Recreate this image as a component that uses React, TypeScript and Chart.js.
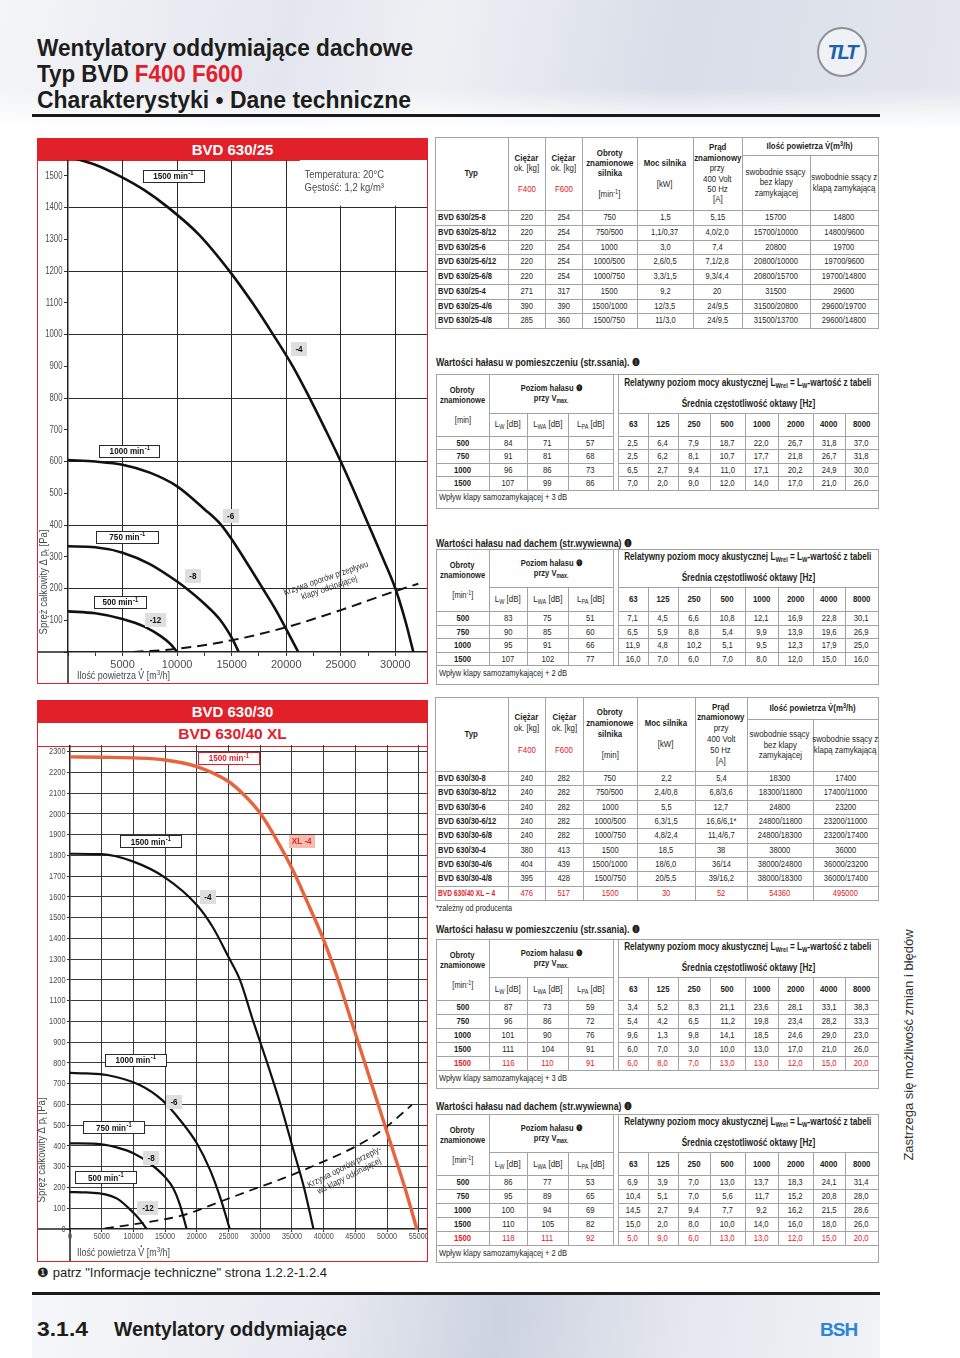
import React, { useEffect, useRef } from "react";
import { Chart, registerables } from "chart.js";
Chart.register(...registerables);

const SANS = '"Liberation Sans",Arial,sans-serif';
const RED = "#e2202a";
const INK = "#231f20";
const LINE = "#a3a3a3";
const NX = 0.82; // horizontal compression that imitates a condensed face

// ---------------- Chart 1 : BVD 630/25 ----------------
const c1Flow1500 = [0, 2500, 4700, 7000, 9200, 12000, 14800, 16900, 18800, 20600, 22150, 23600, 25000, 26300, 27550, 28800, 30000, 30900, 31650];
const c1Pa1500 = [1560, 1535, 1500, 1455, 1400, 1315, 1200, 1100, 1000, 900, 800, 700, 600, 500, 400, 300, 200, 100, 0];
const c1Flow1000 = [0, 2500, 5000, 7500, 10000, 12500, 14050, 15000, 16500, 17850, 19000, 20000, 21100];
const c1Pa1000 = [605, 600, 590, 565, 522, 450, 400, 355, 275, 200, 135, 72, 0];
const c1Flow750 = [0, 2500, 5000, 7500, 10000, 11000, 12500, 13900, 15000, 15650];
const c1Pa750 = [333, 330, 313, 277, 222, 196, 152, 103, 45, 0];
const c1Flow500 = [0, 2500, 5000, 7000, 8500, 9400, 10000];
const c1Pa500 = [128, 122, 104, 80, 50, 25, 0];
const c1FlowDamper = [6000, 10000, 15000, 20000, 25000, 30000, 32100];
const c1PaDamper = [0, 10, 37, 78, 132, 192, 215];
const c1XTicks = [0, 2500, 5000, 7500, 10000, 12500, 15000, 17500, 20000, 22500, 25000, 27500, 30000];
const c1YTicks = [0, 100, 200, 300, 400, 500, 600, 700, 800, 900, 1000, 1100, 1200, 1300, 1400, 1500];

// ---------------- Chart 2 : BVD 630/30 + 630/40 XL ----------------
const c2FlowXL = [0, 5000, 10000, 15000, 20000, 25000, 27500, 30000, 32500, 35000, 37500, 40000, 42300, 44400, 46500, 48600, 50700, 52800, 54700];
const c2PaXL = [2275, 2273, 2270, 2260, 2228, 2156, 2090, 2003, 1880, 1738, 1570, 1393, 1200, 1000, 800, 600, 400, 200, 0];
const c2Flow1500 = [0, 5000, 10000, 15000, 20000, 22500, 25000, 26800, 28900, 31100, 33200, 35050, 36900, 38400];
const c2Pa1500 = [1808, 1806, 1770, 1693, 1561, 1455, 1310, 1200, 1000, 800, 600, 400, 200, 0];
const c2Flow1000 = [0, 2500, 5800, 11000, 14500, 17350, 20000, 22100, 23650, 25200];
const c2Pa1000 = [752, 750, 742, 694, 622, 525, 413, 284, 156, 0];
const c2Flow750 = [0, 5000, 7500, 10000, 12500, 15000, 16300, 17300, 18400];
const c2Pa750 = [413, 408, 392, 365, 318, 250, 195, 120, 0];
const c2Flow500 = [0, 2500, 5000, 7500, 10000, 11000, 12100];
const c2Pa500 = [178, 176, 170, 145, 78, 45, 0];
const c2FlowDamper = [5500, 11000, 17900, 23100, 27900, 33700, 37300, 45500, 49400, 53900];
const c2PaDamper = [3, 27, 67, 125, 180, 245, 290, 405, 480, 598];
const c2XTicks = [0, 5000, 10000, 15000, 20000, 25000, 30000, 35000, 40000, 45000, 50000, 55000];
const c2YTicks = [0, 100, 200, 300, 400, 500, 600, 700, 800, 900, 1000, 1100, 1200, 1300, 1400, 1500, 1600, 1700, 1800, 1900, 2000, 2100, 2200, 2300];

// ---------------- Tables ----------------
const spec25Rows = [
  ["BVD 630/25-8", "220", "254", "750", "1,5", "5,15", "15700", "14800"],
  ["BVD 630/25-8/12", "220", "254", "750/500", "1,1/0,37", "4,0/2,0", "15700/10000", "14800/9600"],
  ["BVD 630/25-6", "220", "254", "1000", "3,0", "7,4", "20800", "19700"],
  ["BVD 630/25-6/12", "220", "254", "1000/500", "2,6/0,5", "7,1/2,8", "20800/10000", "19700/9600"],
  ["BVD 630/25-6/8", "220", "254", "1000/750", "3,3/1,5", "9,3/4,4", "20800/15700", "19700/14800"],
  ["BVD 630/25-4", "271", "317", "1500", "9,2", "20", "31500", "29600"],
  ["BVD 630/25-4/6", "390", "390", "1500/1000", "12/3,5", "24/9,5", "31500/20800", "29600/19700"],
  ["BVD 630/25-4/8", "285", "360", "1500/750", "11/3,0", "24/9,5", "31500/13700", "29600/14800"],
];
const spec30Rows = [
  ["BVD 630/30-8", "240", "282", "750", "2,2", "5,4", "18300", "17400"],
  ["BVD 630/30-8/12", "240", "282", "750/500", "2,4/0,8", "6,8/3,6", "18300/11800", "17400/11000"],
  ["BVD 630/30-6", "240", "282", "1000", "5,5", "12,7", "24800", "23200"],
  ["BVD 630/30-6/12", "240", "282", "1000/500", "6,3/1,5", "16,6/6,1*", "24800/11800", "23200/11000"],
  ["BVD 630/30-6/8", "240", "282", "1000/750", "4,8/2,4", "11,4/6,7", "24800/18300", "23200/17400"],
  ["BVD 630/30-4", "380", "413", "1500", "18,5", "38", "38000", "36000"],
  ["BVD 630/30-4/6", "404", "439", "1500/1000", "18/6,0", "36/14", "38000/24800", "36000/23200"],
  ["BVD 630/30-4/8", "395", "428", "1500/750", "20/5,5", "39/16,2", "38000/18300", "36000/17400"],
  ["BVD 630/40 XL – 4", "476", "517", "1500", "30", "52", "54360", "495000"],
];
const noise25In = [
  ["500", "84", "71", "57", "2,5", "6,4", "7,9", "18,7", "22,0", "26,7", "31,8", "37,0"],
  ["750", "91", "81", "68", "2,5", "6,2", "8,1", "10,7", "17,7", "21,8", "26,7", "31,8"],
  ["1000", "96", "86", "73", "6,5", "2,7", "9,4", "11,0", "17,1", "20,2", "24,9", "30,0"],
  ["1500", "107", "99", "86", "7,0", "2,0", "9,0", "12,0", "14,0", "17,0", "21,0", "26,0"],
];
const noise25Out = [
  ["500", "83", "75", "51", "7,1", "4,5", "6,6", "10,8", "12,1", "16,9", "22,8", "30,1"],
  ["750", "90", "85", "60", "6,5", "5,9", "8,8", "5,4", "9,9", "13,9", "19,6", "26,9"],
  ["1000", "95", "91", "66", "11,9", "4,8", "10,2", "5,1", "9,5", "12,3", "17,9", "25,0"],
  ["1500", "107", "102", "77", "16,0", "7,0", "6,0", "7,0", "8,0", "12,0", "15,0", "16,0"],
];
const noise30In = [
  ["500", "87", "73", "59", "3,4", "5,2", "8,3", "21,1", "23,6", "28,1", "33,1", "38,3"],
  ["750", "96", "86", "72", "5,4", "4,2", "6,5", "11,2", "19,8", "23,4", "28,2", "33,3"],
  ["1000", "101", "90", "76", "9,6", "1,3", "9,8", "14,1", "18,5", "24,6", "29,0", "23,0"],
  ["1500", "111", "104", "91", "6,0", "7,0", "3,0", "10,0", "13,0", "17,0", "21,0", "26,0"],
  ["1500", "116", "110", "91", "6,0", "8,0", "7,0", "13,0", "13,0", "12,0", "15,0", "20,0"],
];
const noise30Out = [
  ["500", "86", "77", "53", "6,9", "3,9", "7,0", "13,0", "13,7", "18,3", "24,1", "31,4"],
  ["750", "95", "89", "65", "10,4", "5,1", "7,0", "5,6", "11,7", "15,2", "20,8", "28,0"],
  ["1000", "100", "94", "69", "14,5", "2,7", "9,4", "7,7", "9,2", "16,2", "21,5", "28,6"],
  ["1500", "110", "105", "82", "15,0", "2,0", "8,0", "10,0", "14,0", "16,0", "18,0", "26,0"],
  ["1500", "118", "111", "92", "5,0", "9,0", "6,0", "13,0", "13,0", "12,0", "15,0", "20,0"],
];
const freqHeads = ["63", "125", "250", "500", "1000", "2000", "4000", "8000"];

// ---------------- canvas text helpers ----------------
function fontStr(size: number, bold = false) {
  return `${bold ? "bold " : ""}${size}px ${SANS}`;
}
function fillScaled(ctx: CanvasRenderingContext2D, text: string, x: number, y: number, size: number, bold: boolean, sx: number, align: "left" | "center" | "right") {
  ctx.save();
  ctx.font = fontStr(size, bold);
  const w = ctx.measureText(text).width * sx;
  const x0 = align === "left" ? x : align === "center" ? x - w / 2 : x - w;
  ctx.translate(x0, y);
  ctx.scale(sx, 1);
  ctx.textAlign = "left";
  ctx.textBaseline = "middle";
  ctx.fillText(text, 0, 0);
  ctx.restore();
  return w;
}
type Part = { t: string; dy: number; k: number };
function partsWidth(ctx: CanvasRenderingContext2D, parts: Part[], size: number) {
  let w = 0;
  parts.forEach((p) => { ctx.font = fontStr(size * p.k); w += ctx.measureText(p.t).width; });
  return w;
}
function drawParts(ctx: CanvasRenderingContext2D, parts: Part[], size: number) {
  let x = 0;
  ctx.textAlign = "left";
  ctx.textBaseline = "middle";
  for (const p of parts) {
    ctx.font = fontStr(size * p.k);
    ctx.fillText(p.t, x, p.dy);
    x += ctx.measureText(p.t).width;
  }
}

// ---------------- chart machinery ----------------
type Curve = { flow: number[]; pa: number[]; color: string; width: number; dash?: number[] };
type LabelBox = { x: number; y: number; text: string; sup?: string; kind: "rpm" | "rpmRed" | "gray" | "pink"; w?: number };
type Note = { x: number; y: number; lines: string[]; angle: number; size: number; sx: number; color: string; align: "left" | "center"; lh: number };
type Mask = { x0: number; x1: number; y0: number; y1: number };
type Spec = {
  xMax: number; yMax: number; xTicks: number[]; yTicks: number[];
  xGridEvery: number; yGridEvery: number; xLabelEvery: number; yLabelZero: boolean; xLabelZero: boolean;
  axisW: number; axisH: number; tickLen: number;
  xTick: { size: number; sx: number; dy: number }; yTick: { size: number; sx: number };
  curves: Curve[]; boxes: LabelBox[]; notes: Note[]; masks: Mask[];
  yTitle: { cx: number; cy: number; size: number; len: number }; xTitle: { x: number; cy: number; size: number; len: number };
  gridColor: string;
};

const BOX_STYLES: any = {
  rpm: { fill: "#fff", stroke: "#2a2a2a", color: "#111", size: 9, padX: 6, h: 13 },
  rpmRed: { fill: "#fff", stroke: RED, color: RED, size: 9, padX: 6, h: 13 },
  gray: { fill: "#dedede", stroke: null, color: "#111", size: 9, padX: 4.5, h: 14 },
  pink: { fill: "#f6bcae", stroke: null, color: "#d8262b", size: 9, padX: 3, h: 13 },
};

function drawLabelBox(ctx: CanvasRenderingContext2D, px: number, py: number, b: LabelBox) {
  const st = BOX_STYLES[b.kind];
  const sx = 0.9;
  ctx.save();
  ctx.font = fontStr(st.size, true);
  const w1 = ctx.measureText(b.text).width * sx;
  let w2 = 0;
  if (b.sup) { ctx.font = fontStr(st.size * 0.7, true); w2 = ctx.measureText(b.sup).width * sx + 1; }
  const w = b.w ?? Math.round(w1 + w2 + st.padX * 2);
  const h = st.h;
  const x0 = Math.round(px - w / 2), y0 = Math.round(py - h / 2);
  ctx.fillStyle = st.fill;
  ctx.fillRect(x0, y0, w, h);
  if (st.stroke) { ctx.strokeStyle = st.stroke; ctx.lineWidth = 1; ctx.strokeRect(x0 + 0.5, y0 + 0.5, w - 1, h - 1); }
  const tx = px - (w1 + w2) / 2;
  ctx.fillStyle = st.color;
  fillScaled(ctx, b.text, tx, py + 0.5, st.size, true, sx, "left");
  if (b.sup) fillScaled(ctx, b.sup, tx + w1 + 0.5, py - 2.5, st.size * 0.7, true, sx, "left");
  ctx.restore();
}

function drawNote(ctx: CanvasRenderingContext2D, px: number, py: number, n: Note) {
  ctx.save();
  ctx.translate(px, py);
  ctx.rotate((n.angle * Math.PI) / 180);
  ctx.fillStyle = n.color;
  const off = n.align === "center" ? -((n.lines.length - 1) * n.lh) / 2 : 0;
  n.lines.forEach((l, i) => fillScaled(ctx, l, 0, off + i * n.lh, n.size, false, n.sx, n.align));
  ctx.restore();
}

function makePlugin(spec: Spec) {
  return {
    id: "fanExtras",
    afterDraw(chart: any) {
      const ctx: CanvasRenderingContext2D = chart.ctx;
      const a = chart.chartArea;
      const xs = chart.scales.x, ys = chart.scales.y;
      ctx.save();
      // white panel behind the conditions note
      ctx.fillStyle = "#fff";
      spec.masks.forEach((m) => {
        const x0 = xs.getPixelForValue(m.x0), x1 = Math.min(xs.getPixelForValue(m.x1), a.right);
        const y0 = ys.getPixelForValue(m.y1), y1 = ys.getPixelForValue(m.y0);
        ctx.fillRect(x0, Math.max(y0, a.top), x1 - x0, y1 - Math.max(y0, a.top));
      });
      // axis lines continued into the label strips
      ctx.strokeStyle = "#222";
      ctx.lineWidth = 1.5;
      ctx.beginPath();
      ctx.moveTo(0, a.bottom);
      ctx.lineTo(a.left, a.bottom);
      ctx.moveTo(a.left, a.bottom);
      ctx.lineTo(a.left, chart.height);
      ctx.stroke();

      // tick labels (condensed look)
      ctx.fillStyle = "#4d4d4d";
      spec.xTicks.forEach((v) => {
        if (v % spec.xLabelEvery !== 0 || (v === 0 && !spec.xLabelZero)) return;
        fillScaled(ctx, String(v), xs.getPixelForValue(v), a.bottom + spec.xTick.dy, spec.xTick.size, false, spec.xTick.sx, "center");
      });
      spec.yTicks.forEach((v) => {
        if (v === 0 && !spec.yLabelZero) return;
        fillScaled(ctx, String(v), a.left - spec.tickLen - 1.5, ys.getPixelForValue(v), spec.yTick.size, false, spec.yTick.sx, "right");
      });

      spec.notes.forEach((n) => drawNote(ctx, xs.getPixelForValue(n.x), ys.getPixelForValue(n.y), n));
      spec.boxes.forEach((b) => drawLabelBox(ctx, xs.getPixelForValue(b.x), ys.getPixelForValue(b.y), b));

      // y title
      const yt = spec.yTitle;
      const yParts: Part[] = [
        { t: "Spręż całkowity Δ p", dy: 0, k: 1 },
        { t: "t", dy: 3, k: 0.7 },
        { t: " [Pa]", dy: 0, k: 1 },
      ];
      const yw = partsWidth(ctx, yParts, yt.size);
      ctx.save();
      ctx.fillStyle = "#4a4a4a";
      ctx.translate(yt.cx, yt.cy);
      ctx.rotate(-Math.PI / 2);
      ctx.translate(-yt.len / 2, 0);
      ctx.scale(yt.len / yw, 1);
      drawParts(ctx, yParts, yt.size);
      ctx.restore();

      // x title
      const xt = spec.xTitle;
      const xParts: Part[] = [
        { t: "Ilość powietrza V [m", dy: 0, k: 1 },
        { t: "3", dy: -3, k: 0.7 },
        { t: "/h]", dy: 0, k: 1 },
      ];
      const xw = partsWidth(ctx, xParts, xt.size);
      ctx.save();
      ctx.fillStyle = "#4a4a4a";
      ctx.translate(xt.x, xt.cy);
      ctx.scale(xt.len / xw, 1);
      drawParts(ctx, xParts, xt.size);
      ctx.font = fontStr(xt.size);
      const wPre = ctx.measureText("Ilość powietrza ").width;
      const wV = ctx.measureText("V").width;
      ctx.beginPath();
      ctx.arc(wPre + wV / 2, -xt.size * 0.62, 0.9, 0, Math.PI * 2);
      ctx.fill();
      ctx.restore();
      ctx.restore();
    },
  };
}

function FanChart({ left, top, width, height, spec }: { left: number; top: number; width: number; height: number; spec: Spec }) {
  const ref = useRef<HTMLCanvasElement>(null);
  useEffect(() => {
    const cfg: any = {
      type: "line",
      data: {
        datasets: spec.curves.map((c) => ({
          data: c.flow.map((x, i) => ({ x, y: c.pa[i] })),
          borderColor: c.color,
          borderWidth: c.width,
          borderDash: c.dash || [],
          pointRadius: 0,
          fill: false,
          cubicInterpolationMode: "monotone",
          borderCapStyle: "butt",
        })),
      },
      options: {
        responsive: false,
        animation: false,
        devicePixelRatio: 1,
        events: [],
        layout: { padding: 0 },
        plugins: { legend: { display: false }, tooltip: { enabled: false } },
        scales: {
          x: {
            type: "linear",
            min: 0,
            max: spec.xMax,
            afterBuildTicks: (s: any) => { s.ticks = spec.xTicks.map((v) => ({ value: v })); },
            afterFit: (s: any) => { s.height = spec.axisH; },
            ticks: { display: false },
            grid: {
              color: (c: any) => (c.tick && c.tick.value > 0 && c.tick.value % spec.xGridEvery === 0 ? spec.gridColor : "rgba(0,0,0,0)"),
              tickColor: "#333",
              tickLength: spec.tickLen,
              lineWidth: 1,
            },
            border: { display: true, color: "#222", width: 1.5 },
          },
          y: {
            type: "linear",
            min: 0,
            max: spec.yMax,
            afterBuildTicks: (s: any) => { s.ticks = spec.yTicks.map((v) => ({ value: v })); },
            afterFit: (s: any) => { s.width = spec.axisW; },
            ticks: { display: false },
            grid: {
              color: (c: any) => (c.tick && c.tick.value > 0 && c.tick.value % spec.yGridEvery === 0 ? spec.gridColor : "rgba(0,0,0,0)"),
              tickColor: "#333",
              tickLength: spec.tickLen,
              lineWidth: 1,
            },
            border: { display: true, color: "#222", width: 1.5 },
          },
        },
      },
      plugins: [makePlugin(spec)],
    };
    const chart = new Chart(ref.current as HTMLCanvasElement, cfg);
    return () => chart.destroy();
  }, []);
  return <canvas ref={ref} width={width} height={height} style={{ position: "absolute", left, top, width, height }} />;
}

const chart1Spec: Spec = {
  xMax: 32900, yMax: 1550, xTicks: c1XTicks, yTicks: c1YTicks,
  xGridEvery: 5000, yGridEvery: 200, xLabelEvery: 5000, yLabelZero: false, xLabelZero: false,
  axisW: 30, axisH: 31, tickLen: 4,
  xTick: { size: 11, sx: 1, dy: 13 }, yTick: { size: 10, sx: 0.78 },
  gridColor: "#2b2b2b",
  curves: [
    { flow: c1Flow1500, pa: c1Pa1500, color: "#111", width: 2.6 },
    { flow: c1Flow1000, pa: c1Pa1000, color: "#111", width: 2.6 },
    { flow: c1Flow750, pa: c1Pa750, color: "#111", width: 2.6 },
    { flow: c1Flow500, pa: c1Pa500, color: "#111", width: 2.6 },
    { flow: c1FlowDamper, pa: c1PaDamper, color: "#111", width: 2, dash: [10, 6] },
  ],
  boxes: [
    { x: 9670, y: 1499, text: "1500 min", sup: "-1", kind: "rpm", w: 62 },
    { x: 21170, y: 955, text: "-4", kind: "gray" },
    { x: 5680, y: 633, text: "1000 min", sup: "-1", kind: "rpm", w: 61 },
    { x: 14900, y: 428, text: "-6", kind: "gray" },
    { x: 5450, y: 362, text: "750 min", sup: "-1", kind: "rpm", w: 63 },
    { x: 11440, y: 239, text: "-8", kind: "gray" },
    { x: 4810, y: 156, text: "500 min", sup: "-1", kind: "rpm", w: 53 },
    { x: 8020, y: 101, text: "-12", kind: "gray" },
  ],
  notes: [
    { x: 21680, y: 1502, lines: ["Temperatura: 20°C", "Gęstość: 1,2 kg/m³"], angle: 0, size: 11, sx: 0.86, color: "#4a4a4a", align: "left", lh: 12.5 },
    { x: 23790, y: 217, lines: ["Krzywa oporów przepływu", "klapy odcinającej"], angle: -19, size: 9, sx: 0.85, color: "#333", align: "center", lh: 10 },
  ],
  masks: [{ x0: 21250, x1: 32900, y0: 1406, y1: 1560 }],
  yTitle: { cx: 6, cy: 422, size: 11, len: 105 },
  xTitle: { x: 39, cy: 516, size: 11, len: 93 },
};

const chart2Spec: Spec = {
  xMax: 56300, yMax: 2332, xTicks: c2XTicks, yTicks: c2YTicks,
  xGridEvery: 5000, yGridEvery: 100, xLabelEvery: 5000, yLabelZero: true, xLabelZero: true,
  axisW: 32, axisH: 32, tickLen: 3,
  xTick: { size: 9, sx: 0.8, dy: 8 }, yTick: { size: 9.5, sx: 0.78 },
  gridColor: "#3a3a3a",
  curves: [
    { flow: c2FlowXL, pa: c2PaXL, color: "#e8643e", width: 3.4 },
    { flow: c2Flow1500, pa: c2Pa1500, color: "#111", width: 2.2 },
    { flow: c2Flow1000, pa: c2Pa1000, color: "#111", width: 2.2 },
    { flow: c2Flow750, pa: c2Pa750, color: "#111", width: 2.2 },
    { flow: c2Flow500, pa: c2Pa500, color: "#111", width: 2.2 },
    { flow: c2FlowDamper, pa: c2PaDamper, color: "#111", width: 1.8, dash: [9, 6] },
  ],
  boxes: [
    { x: 25080, y: 2268, text: "1500 min", sup: "-1", kind: "rpmRed", w: 62 },
    { x: 36540, y: 1868, text: "XL -4", kind: "pink" },
    { x: 12780, y: 1865, text: "1500 min", sup: "-1", kind: "rpm", w: 62 },
    { x: 21740, y: 1598, text: "-4", kind: "gray" },
    { x: 10400, y: 814, text: "1000 min", sup: "-1", kind: "rpm", w: 62 },
    { x: 16400, y: 610, text: "-6", kind: "gray" },
    { x: 6940, y: 487, text: "750 min", sup: "-1", kind: "rpm", w: 62 },
    { x: 12780, y: 342, text: "-8", kind: "gray" },
    { x: 5680, y: 246, text: "500 min", sup: "-1", kind: "rpm", w: 62 },
    { x: 12300, y: 101, text: "-12", kind: "gray" },
  ],
  notes: [
    { x: 43650, y: 276, lines: ["Krzywa oporów przeply-", "wu klapy odcinającej"], angle: -27, size: 9, sx: 0.85, color: "#333", align: "center", lh: 10 },
  ],
  masks: [],
  yTitle: { cx: 4, cy: 405, size: 11, len: 105 },
  xTitle: { x: 39, cy: 508, size: 11, len: 93 },
};

// ---------------- HTML helpers ----------------
const abs = (l: number, t: number, w: number, h: number, extra: any = {}) => ({ position: "absolute" as const, left: l, top: t, width: w, height: h, ...extra });
const HL = (k: string, x: number, y: number, w: number) => <div key={k} style={abs(x, y, w, 1, { background: LINE })} />;
const VL = (k: string, x: number, y: number, h: number) => <div key={k} style={abs(x, y, 1, h, { background: LINE })} />;

let measureCtx: CanvasRenderingContext2D | null = null;
function measure(text: string, size: number, bold: boolean) {
  if (!measureCtx) measureCtx = document.createElement("canvas").getContext("2d");
  const c = measureCtx as CanvasRenderingContext2D;
  c.font = fontStr(size, bold);
  return c.measureText(text).width;
}

function FitText({ left, cy, target, size, bold = false, plain, children, color, extra }: any) {
  const w = measure(plain, size, bold);
  const sx = target / w;
  return (
    <div style={abs(left, cy - size * 0.6, Math.ceil(w) + 4, size * 1.2, { fontFamily: SANS, fontSize: size, fontWeight: bold ? 700 : 400, lineHeight: `${size * 1.2}px`, whiteSpace: "nowrap", transform: `scaleX(${sx})`, transformOrigin: "left center", color, ...extra })}>
      {children ?? plain}
    </div>
  );
}

function Stack({ x, y, w, h, lh, lines, size = 9.6, align = "center" }: any) {
  return (
    <div style={abs(x, y, w, h, { display: "flex", flexDirection: "column", justifyContent: "center", alignItems: align === "left" ? "flex-start" : "center", textAlign: align, fontFamily: SANS, fontSize: size, lineHeight: `${lh}px`, paddingLeft: align === "left" ? 3 : 0, boxSizing: "border-box" })}>
      {lines.map((l: any, i: number) => (
        <div key={i} style={{ height: lh, whiteSpace: "nowrap", fontWeight: l.b ? 700 : 400, color: l.red ? RED : undefined, fontSize: l.s ?? size }}>
          <span style={{ display: "inline-block", transform: `scaleX(${l.sx ?? NX})`, transformOrigin: align === "left" ? "left center" : "center center" }}>{l.t}</span>
        </div>
      ))}
    </div>
  );
}

const Sup = ({ c }: { c: string }) => <sup style={{ fontSize: "70%", lineHeight: 0, verticalAlign: "3px" }}>{c}</sup>;
const Sub = ({ c }: { c: string }) => <sub style={{ fontSize: "70%", lineHeight: 0, verticalAlign: "-2px" }}>{c}</sub>;

function SpecTable({ x, y, edges, splitH, headH, rowH, lh, rows, redLast, minUnit }: any) {
  const W = edges[edges.length - 1];
  const H = headH + rowH * rows.length;
  const els: any[] = [];
  els.push(<div key="o" style={abs(0, 0, W + 1, H + 1, { border: `1px solid ${LINE}`, boxSizing: "border-box" })} />);
  for (let i = 1; i < edges.length - 1; i++) {
    const t = i === 7 ? splitH : 0;
    els.push(VL("v" + i, edges[i], t, H - t));
  }
  els.push(HL("s", edges[6], splitH, W - edges[6]));
  for (let r = 0; r < rows.length; r++) els.push(HL("h" + r, 0, headH + r * rowH, W));
  const cw = (i: number) => edges[i + 1] - edges[i];
  const B = (t: any) => ({ t, b: true });
  const R = (t: any) => ({ t });
  const heads = [
    [B("Typ")],
    [B("Ciężar"), R("ok. [kg]"), R(""), { t: "F400", red: true }],
    [B("Ciężar"), R("ok. [kg]"), R(""), { t: "F600", red: true }],
    [B("Obroty"), B("znamionowe"), B("silnika"), R(""), R(minUnit ? <span>[min<Sup c="-1" />]</span> : "[min]")],
    [B("Moc silnika"), R(""), R("[kW]")],
    [B("Prąd"), B("znamionowy"), R("przy"), R("400 Volt"), R("50 Hz"), R("[A]")],
  ];
  heads.forEach((ls, i) => els.push(<Stack key={"hd" + i} x={edges[i]} y={0} w={cw(i)} h={headH} lh={lh} lines={ls} />));
  els.push(<Stack key="hq" x={edges[6]} y={0} w={W - edges[6]} h={splitH} lh={lh} lines={[B(<span>Ilość powietrza V̇(m<Sup c="3" />/h)</span>)]} />);
  els.push(<Stack key="hq1" x={edges[6]} y={splitH} w={cw(6)} h={headH - splitH} lh={lh} lines={[R("swobodnie ssący"), R("bez klapy"), R("zamykającej")]} />);
  els.push(<Stack key="hq2" x={edges[7]} y={splitH} w={cw(7)} h={headH - splitH} lh={lh} lines={[R("swobodnie ssący z"), R("klapą zamykającą")]} />);
  rows.forEach((row: string[], r: number) => {
    const red = redLast && r === rows.length - 1;
    row.forEach((v, c) => {
      const long = c === 0 && v.length > 16;
      els.push(
        <Stack key={`c${r}_${c}`} x={edges[c]} y={headH + r * rowH} w={cw(c)} h={rowH} lh={rowH} align={c === 0 ? "left" : "center"} lines={[{ t: v, b: c === 0, red, s: 9.2, sx: long ? 0.72 : NX }]} />
      );
    });
  });
  return <div style={abs(x, y, W + 1, H + 1, { color: INK })}>{els}</div>;
}

const NOISE_EDGES = [0, 53, 91, 132, 177, 182, 212, 242, 274, 309, 342, 377, 409, 442];

function NoiseTable({ x, y, title, titleY, titleW, unitMinus, rows, redLast, footer, splitH, headH, rowH, footH }: any) {
  const E = NOISE_EDGES;
  const W = E[E.length - 1];
  const bodyEnd = headH + rowH * rows.length;
  const H = bodyEnd + footH;
  const els: any[] = [];
  els.push(<div key="o" style={abs(0, 0, W + 1, H + 1, { border: `1px solid ${LINE}`, boxSizing: "border-box" })} />);
  [1, 4, 5].forEach((i) => els.push(VL("vv" + i, E[i], 0, bodyEnd)));
  [2, 3, 6, 7, 8, 9, 10, 11, 12].forEach((i) => els.push(VL("v" + i, E[i], splitH, bodyEnd - splitH)));
  els.push(HL("s1", E[1], splitH, E[4] - E[1]));
  els.push(HL("s2", E[5], splitH, W - E[5]));
  for (let r = 0; r < rows.length; r++) {
    els.push(HL("ha" + r, 0, headH + r * rowH, E[4]));
    els.push(HL("hb" + r, E[5], headH + r * rowH, W - E[5]));
  }
  els.push(HL("f", 0, bodyEnd, W));
  const cw = (i: number) => E[i + 1] - E[i];
  const lh = 10;
  els.push(<Stack key="h0" x={0} y={0} w={cw(0)} h={headH} lh={lh} size={9.2} lines={[{ t: "Obroty", b: true }, { t: "znamionowe", b: true }, { t: "" }, { t: unitMinus ? <span>[min<Sup c="-1" />]</span> : "[min]" }]} />);
  els.push(<Stack key="h1" x={E[1]} y={0} w={E[4] - E[1]} h={splitH} lh={lh} size={9.2} lines={[{ t: "Poziom hałasu ❶", b: true }, { t: <span>przy V<Sub c="max." /></span>, b: true }]} />);
  els.push(<Stack key="h2" x={E[5]} y={0} w={W - E[5]} h={splitH} lh={10.5} size={10} lines={[{ t: <span>Relatywny poziom mocy akustycznej L<Sub c="Wrel" /> = L<Sub c="W" />-wartość z tabeli</span>, b: true }, { t: "" }, { t: "Średnia częstotliwość oktawy [Hz]", b: true }]} />);
  const lhead = [<span>L<Sub c="W" /> [dB]</span>, <span>L<Sub c="WA" /> [dB]</span>, <span>L<Sub c="PA" /> [dB]</span>];
  lhead.forEach((t, i) => els.push(<Stack key={"l" + i} x={E[i + 1]} y={splitH} w={cw(i + 1)} h={headH - splitH} lh={lh} lines={[{ t }]} />));
  freqHeads.forEach((t, i) => els.push(<Stack key={"fq" + i} x={E[i + 5]} y={splitH} w={cw(i + 5)} h={headH - splitH} lh={lh} lines={[{ t, b: true }]} />));
  rows.forEach((row: string[], r: number) => {
    const red = redLast && r === rows.length - 1;
    row.forEach((v, c) => {
      const col = c < 4 ? c : c + 1;
      els.push(<Stack key={`c${r}_${c}`} x={E[col]} y={headH + r * rowH} w={cw(col)} h={rowH} lh={rowH} size={9.4} lines={[{ t: v, b: c === 0, red }]} />);
    });
  });
  els.push(<Stack key="ft" x={0} y={bodyEnd + 1} w={W} h={13} lh={12} size={9.2} align="left" lines={[{ t: footer }]} />);
  return (
    <>
      <FitText left={x} cy={titleY} target={titleW} size={11} bold plain={title} color={INK} />
      <div style={abs(x, y, W + 1, H + 1, { color: INK })}>{els}</div>
    </>
  );
}

function ChartFrame({ top, height, xl }: { top: number; height: number; xl?: boolean }) {
  return (
    <div style={abs(37, top, 391, height, { border: `1.5px solid ${RED}`, boxSizing: "border-box", background: "#fff" })}>
      <div style={abs(-1, -1, 391, 23, { background: RED, color: "#fff", fontFamily: SANS, fontWeight: 700, fontSize: 15, lineHeight: "23px", textAlign: "center" })}>{xl ? "BVD 630/30" : "BVD 630/25"}</div>
      {xl && (
        <div style={abs(-1, 21, 391, 25, { borderBottom: `1.5px solid ${RED}`, boxSizing: "border-box", color: RED, fontFamily: SANS, fontWeight: 700, fontSize: 15.5, lineHeight: "24px", textAlign: "center" })}>BVD 630/40 XL</div>
      )}
    </div>
  );
}

export default function App() {
  return (
    <div style={abs(0, 0, 960, 1358, { background: "#fff", overflow: "hidden", color: INK, fontFamily: SANS })}>
      {/* header */}
      <div style={abs(0, 0, 960, 128, { background: "linear-gradient(100deg,#f4f5f8 0%,#e3e6ee 30%,#eef0f4 45%,#d8dde8 70%,#e4e7ee 100%)" })} />
      <div style={abs(0, 88, 960, 40, { background: "linear-gradient(to bottom, rgba(255,255,255,0), #fff)" })} />
      <FitText left={37} cy={48} target={376} size={24} bold plain="Wentylatory oddymiające dachowe" color="#1d1d1b" />
      <FitText left={37} cy={74} target={206} size={24} bold plain="Typ BVD F400 F600" color="#1d1d1b">
        <span>Typ BVD <span style={{ color: RED }}>F400 F600</span></span>
      </FitText>
      <FitText left={37} cy={100} target={374} size={24} bold plain="Charakterystyki • Dane techniczne" color="#1d1d1b" />
      <div style={abs(32, 114, 848, 3, { background: "#1a1a1a" })} />
      <div style={abs(817, 27, 50, 50, { borderRadius: "50%", border: "2px solid #8c929c", boxSizing: "border-box", background: "rgba(255,255,255,0.5)", color: "#1b62ae", fontFamily: SANS, fontWeight: 900, fontStyle: "italic", fontSize: 20, lineHeight: "46px", textAlign: "center", letterSpacing: -2 })}>TLT</div>

      {/* charts */}
      <ChartFrame top={138} height={546} />
      <FanChart left={38} top={160} width={389} height={523} spec={chart1Spec} />
      <ChartFrame top={700} height={562} xl />
      <FanChart left={38} top={745} width={389} height={516} spec={chart2Spec} />

      {/* tables top */}
      <SpecTable x={435} y={137} edges={[0, 73, 110, 147, 202, 258, 307, 375, 443]} splitH={18} headH={73} rowH={14.75} lh={10.4} rows={spec25Rows} minUnit />
      <NoiseTable x={436} y={374} titleY={363} titleW={204} title="Wartości hałasu w pomieszczeniu (str.ssania). ❶" rows={noise25In} footer="Wpływ klapy samozamykającej + 3 dB" splitH={38.5} headH={62} rowH={13.4} footH={18.4} />
      <NoiseTable x={436} y={549} titleY={544} titleW={196} title="Wartości hałasu nad dachem (str.wywiewna) ❶" unitMinus rows={noise25Out} footer="Wpływ klapy samozamykającej + 2 dB" splitH={38} headH={62} rowH={13.5} footH={19} />

      {/* tables bottom */}
      <SpecTable x={435} y={697} edges={[0, 73, 110, 148, 202, 260, 312, 378, 443]} splitH={22} headH={74} rowH={14.33} lh={10.8} rows={spec30Rows} redLast />
      <FitText left={436} cy={908} target={76} size={9} plain="*zależny od producenta" color={INK} />
      <NoiseTable x={436} y={939} titleY={930} titleW={204} title="Wartości hałasu w pomieszczeniu (str.ssania). ❶" unitMinus rows={noise30In} redLast footer="Wpływ klapy samozamykającej + 3 dB" splitH={38} headH={61} rowH={14} footH={18} />
      <NoiseTable x={436} y={1114} titleY={1107} titleW={196} title="Wartości hałasu nad dachem (str.wywiewna) ❶" unitMinus rows={noise30Out} redLast footer="Wpływ klapy samozamykającej + 2 dB" splitH={38} headH={61} rowH={14} footH={17} />

      {/* footnote + side text */}
      <FitText left={37} cy={1273} target={290} size={13} plain={'❶ patrz "Informacje techniczne" strona 1.2.2-1.2.4'} color={INK} />
      <div style={abs(908, 1045, 0, 0)}>
        <div style={{ position: "absolute", left: 0, top: 0, transform: "translate(-50%,-50%) rotate(-90deg)", whiteSpace: "nowrap", fontFamily: SANS, fontSize: 13, color: "#333" }}>Zastrzega się możliwość zmian i błędów</div>
      </div>

      {/* footer */}
      <div style={abs(32, 1292, 848, 3, { background: "#1a1a1a" })} />
      <div style={abs(32, 1295, 848, 63, { background: "linear-gradient(100deg,#f6f7fa 0%,#e6e9f0 35%,#cdd3e0 55%,#e3e6ee 75%,#f2f3f6 100%)" })} />
      <FitText left={37} cy={1329} target={51} size={21} bold plain="3.1.4" color="#1d1d1b" />
      <FitText left={114} cy={1329} target={233} size={21} bold plain="Wentylatory oddymiające" color="#1d1d1b" />
      <div style={abs(820, 1318, 48, 24, { fontFamily: SANS, fontWeight: 900, fontSize: 19, lineHeight: "24px", color: "#2a86d6", letterSpacing: -1 })}>BSH</div>
    </div>
  );
}
